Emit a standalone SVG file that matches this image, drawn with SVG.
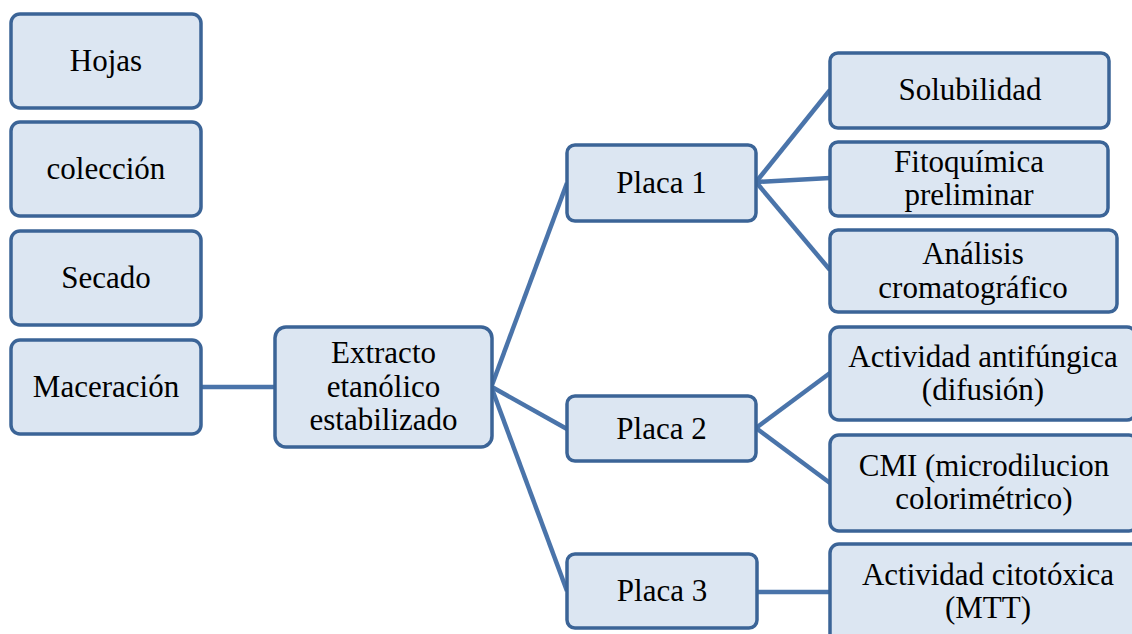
<svg xmlns="http://www.w3.org/2000/svg" width="1132" height="634" viewBox="0 0 1132 634">
<style>
.box{fill:#dce6f2;stroke:#3b6497;stroke-width:3.5}
.c{stroke:#4a74aa;stroke-width:4.5;fill:none;stroke-linecap:butt}
</style>
<rect width="1132" height="634" fill="#fff"/>
<g id="connectors">
<line class="c" x1="201" y1="387" x2="276" y2="387"/>
<line class="c" x1="492" y1="385" x2="567" y2="183"/>
<line class="c" x1="492" y1="387" x2="567" y2="429"/>
<line class="c" x1="492" y1="389" x2="567" y2="591"/>
<line class="c" x1="756" y1="182" x2="830" y2="90"/>
<line class="c" x1="756" y1="182" x2="830" y2="178"/>
<line class="c" x1="756" y1="182" x2="830" y2="270"/>
<line class="c" x1="756" y1="428" x2="830" y2="373"/>
<line class="c" x1="756" y1="428" x2="830" y2="483"/>
<line class="c" x1="756" y1="592" x2="830" y2="592"/>
</g>
<g font-family="Liberation Serif, Times New Roman, DejaVu Serif, serif" font-size="31" fill="#000" text-anchor="middle">
<g id="hojas"><rect class="box" x="11" y="14" width="190" height="94" rx="9"/><text x="106" y="71">Hojas</text></g>
<g id="coleccion"><rect class="box" x="11" y="122" width="190" height="94" rx="9"/><text x="106" y="179">colección</text></g>
<g id="secado"><rect class="box" x="11" y="231" width="190" height="94" rx="9"/><text x="106" y="288">Secado</text></g>
<g id="maceracion"><rect class="box" x="11" y="340" width="190" height="94" rx="9"/><text x="106" y="397">Maceración</text></g>
<g id="extracto"><rect class="box" x="275" y="327" width="217" height="120" rx="11"/><text x="383.5" y="363">Extracto</text><text x="383.5" y="397">etanólico</text><text x="383.5" y="430">estabilizado</text></g>
<g id="placa1"><rect class="box" x="567" y="145" width="189" height="76" rx="8"/><text x="661.5" y="193">Placa 1</text></g>
<g id="placa2"><rect class="box" x="567" y="396" width="189" height="65" rx="8"/><text x="661.5" y="439">Placa 2</text></g>
<g id="placa3"><rect class="box" x="567" y="554" width="190" height="74" rx="8"/><text x="662" y="601">Placa 3</text></g>
<g id="solubilidad"><rect class="box" x="830" y="53" width="279" height="75" rx="8"/><text x="970" y="100">Solubilidad</text></g>
<g id="fitoquimica"><rect class="box" x="830" y="142" width="278" height="74" rx="8"/><text x="969" y="172">Fitoquímica</text><text x="969" y="205">preliminar</text></g>
<g id="analisis"><rect class="box" x="830" y="230" width="287" height="82" rx="8"/><text x="973" y="264">Análisis</text><text x="973" y="298">cromatográfico</text></g>
<g id="antifungica"><rect class="box" x="830" y="327" width="306" height="93" rx="9"/><text x="983" y="367">Actividad antifúngica</text><text x="983" y="400">(difusión)</text></g>
<g id="cmi"><rect class="box" x="830" y="435" width="308" height="96" rx="9"/><text x="984" y="476">CMI (microdilucion</text><text x="984" y="509">colorimétrico)</text></g>
<g id="citotoxica"><rect class="box" x="830" y="544" width="316" height="100" rx="9"/><text x="988" y="585">Actividad citotóxica</text><text x="988" y="618">(MTT)</text></g>
</g>
</svg>
